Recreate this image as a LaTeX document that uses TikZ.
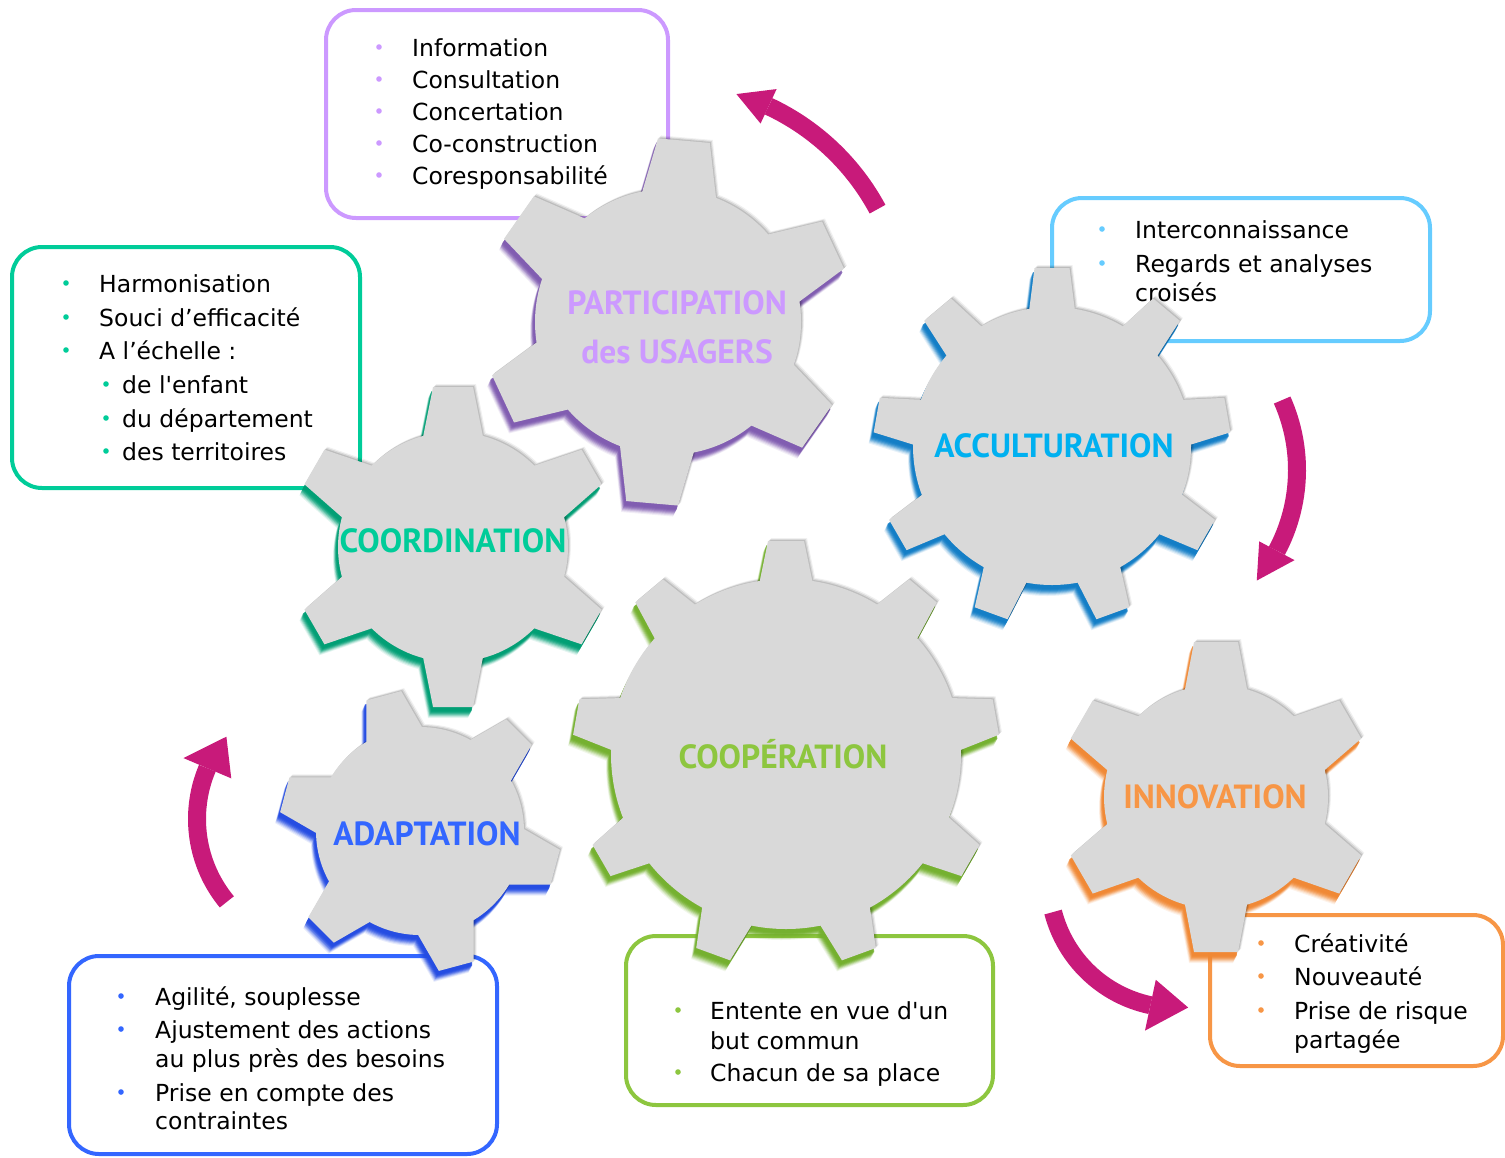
\documentclass[tikz,border=0pt]{standalone}
\usepackage{fontspec}
\setmainfont{DejaVu Sans}
\newfontfamily\labelfont{PT Sans}
\usetikzlibrary{calc}
\definecolor{gearcol}{RGB}{217,217,217}
\definecolor{purpL}{RGB}{204,153,255}
\definecolor{purpS}{RGB}{128,92,176}
\definecolor{accL}{RGB}{0,176,240}
\definecolor{accB}{RGB}{102,204,255}
\definecolor{accS}{RGB}{18,125,198}
\definecolor{coordL}{RGB}{0,204,153}
\definecolor{coordS}{RGB}{0,158,116}
\definecolor{coopL}{RGB}{141,198,63}
\definecolor{coopS}{RGB}{116,176,46}
\definecolor{innovL}{RGB}{247,150,70}
\definecolor{innovS}{RGB}{240,136,52}
\definecolor{adaptL}{RGB}{51,102,255}
\definecolor{adaptS}{RGB}{36,76,226}
\definecolor{arrowcol}{RGB}{200,26,122}

% #1 options, #2 cx, #3 cy, #4 body radius, #5 tip radius, #6 teeth, #7 rotation, #8 base half width, #9 tip half width
\newcommand{\gearfill}[9]{%
  \fill[#1] (#2,#3) circle[radius=#4];
  \foreach \k in {1,...,#6}{%
    \pgfmathsetmacro{\ang}{#7+(\k-1)*360/#6}%
    \fill[#1,shift={(#2,#3)},rotate=\ang] (#4-20,-#8) -- (#5,-#9) -- (#5,#9) -- (#4-20,#8) -- cycle;
  }}
\newcommand{\fullgear}[9]{%
  \foreach \dx/\dy/\op in {-5/-11/0.10,-4.5/-10/0.15,-4/-9/0.22,-3.5/-8/0.3,-3/-7/0.4,-2.5/-6/0.5,-2/-5/0.65,-1.5/-4/0.8}{%
    \begin{scope}[transparency group, opacity=\op]
      \gearfill{xshift=\dx pt,yshift=\dy pt,fill=#1}{#2}{#3}{#4}{#5}{#6}{#7}{#8}{#9}
    \end{scope}}
  \foreach \dx/\op in {3/0.06,2/0.1,1/0.12}{%
    \begin{scope}[transparency group, opacity=\op]
      \gearfill{xshift=\dx pt,yshift=\dx pt,fill=black}{#2}{#3}{#4}{#5}{#6}{#7}{#8}{#9}
    \end{scope}}
  \gearfill{fill=gearcol}{#2}{#3}{#4}{#5}{#6}{#7}{#8}{#9}}
% #1 cx, #2 cy, #3 radius, #4 tail angle, #5 head base angle, #6 tip angle, #7 head half width
\newcommand{\magarrow}[7]{%
  \begin{scope}[shift={(#1,#2)}]
    \draw[arrowcol, line width=18pt] ({#4}:{#3}) arc[start angle=#4, end angle=#5, radius=#3];
    \fill[arrowcol] ({#5}:{#3+#7}) -- ({#6}:{#3}) -- ({#5}:{#3-#7}) -- cycle;
  \end{scope}}

\begin{document}
\begin{tikzpicture}[x=1pt,y=1pt,
  txt/.style={anchor=base west, inner sep=0pt, font=\fontsize{23.5}{28}\selectfont},
  glabel/.style={anchor=base, inner sep=0pt, font=\labelfont\bfseries\fontsize{33.5}{36}\selectfont},
  tbox/.style={draw, line width=4pt, rounded corners=30pt, fill=white, inner sep=0pt},
]
\useasboundingbox (0,-1157) rectangle (1505,0);

% ---------- text boxes ----------
\node[tbox, draw=purpL, minimum width=342pt, minimum height=208pt] (boxP) at (497,-114) {};
\node[tbox, draw=coordL, minimum width=348pt, minimum height=241pt] (boxC) at (186,-367.5) {};
\node[tbox, draw=accB, minimum width=378pt, minimum height=143pt] (boxA) at (1241,-269.5) {};
\node[tbox, draw=innovL, minimum width=293pt, minimum height=151pt] (boxI) at (1356.5,-990.5) {};
\node[tbox, draw=coopL, minimum width=367pt, minimum height=169pt] (boxCO) at (809.5,-1020.5) {};
\node[tbox, draw=adaptL, minimum width=428pt, minimum height=198pt] (boxAD) at (283,-1055) {};

% ---------- box texts ----------
\foreach \y in {47,79,111,143,175} \fill[purpL] (379,-\y) circle[radius=2.8];
\node[txt] (p1) at (412,-56) {Information};
\node[txt] (p2) at (412,-88) {Consultation};
\node[txt] (p3) at (412,-120) {Concertation};
\node[txt] (p4) at (412,-152) {Co-construction};
\node[txt] (p5) at (412,-184) {Coresponsabilité};

\foreach \y in {283,317,350} \fill[coordL] (66,-\y) circle[radius=2.8];
\foreach \y in {384,418,451} \fill[coordL] (106,-\y) circle[radius=2.8];
\node[txt] (c1) at (99,-292) {Harmonisation};
\node[txt] (c2) at (99,-326) {Souci d’efficacité};
\node[txt] (c3) at (99,-359) {A l’échelle :};
\node[txt] (c4) at (122,-393) {de l\textquotesingle enfant};
\node[txt] (c5) at (122,-427) {du département};
\node[txt] (c6) at (122,-460) {des territoires};

\foreach \y in {229,263} \fill[accB] (1102,-\y) circle[radius=2.8];
\node[txt] (a1) at (1135,-238) {Interconnaissance};
\node[txt] (a2) at (1135,-272) {Regards et analyses};
\node[txt] (a3) at (1135,-301) {croisés};

\foreach \y in {943,976,1010} \fill[innovL] (1261,-\y) circle[radius=2.8];
\node[txt] (i1) at (1294,-952) {Créativité};
\node[txt] (i2) at (1294,-985) {Nouveauté};
\node[txt] (i3) at (1294,-1019) {Prise de risque};
\node[txt] (i4) at (1294,-1048) {partagée};

\foreach \y in {1010,1072} \fill[coopL] (678,-\y) circle[radius=2.8];
\node[txt] (o1) at (710,-1019) {Entente en vue d\textquotesingle un};
\node[txt] (o2) at (710,-1049) {but commun};
\node[txt] (o3) at (710,-1081) {Chacun de sa place};

\foreach \y in {996,1029,1092} \fill[adaptL] (121,-\y) circle[radius=2.8];
\node[txt] (d1) at (155,-1005) {Agilité, souplesse};
\node[txt] (d2) at (155,-1038) {Ajustement des actions};
\node[txt] (d3) at (155,-1067) {au plus près des besoins};
\node[txt] (d4) at (155,-1101) {Prise en compte des};
\node[txt] (d5) at (155,-1129) {contraintes};

% ---------- gears ----------
\fullgear{purpS}{668}{-322}{133}{182}{6}{25}{40}{26}
\fullgear{accS}{1052}{-446}{139}{178}{9}{10}{25}{17.5}
\fullgear{coordS}{453}{-547}{115}{160}{6}{90}{33}{20}
\fullgear{coopS}{786}{-754}{175}{213}{9}{10}{30}{18}
\fullgear{adaptS}{420}{-831}{104}{140}{6}{45}{33}{18}
\fullgear{innovS}{1216}{-797}{112}{155}{6}{90}{34}{22}

\node[glabel, text=purpL] (lP1) at (677,-314) {PARTICIPATION};
\node[glabel, text=purpL] (lP2) at (677,-363) {des USAGERS};
\node[glabel, text=accL] (lA) at (1054,-457) {ACCULTURATION};
\node[glabel, text=coordL] (lC) at (453,-552) {COORDINATION};
\node[glabel, text=coopL] (lCO) at (783,-768) {COOPÉRATION};
\node[glabel, text=adaptL] (lAD) at (427,-845) {ADAPTATION};
\node[glabel, text=innovL] (lI) at (1215,-808) {INNOVATION};

% ---------- arrows ----------
\magarrow{668}{-322}{238}{28.3}{65}{73.3}{19}
\magarrow{1125}{-470}{172}{24}{-28}{-40}{20}
\magarrow{1177}{-880}{128}{194.5}{258}{275}{26}
\magarrow{327}{-819}{130}{219.6}{157}{140.7}{26}
\end{tikzpicture}
\end{document}
